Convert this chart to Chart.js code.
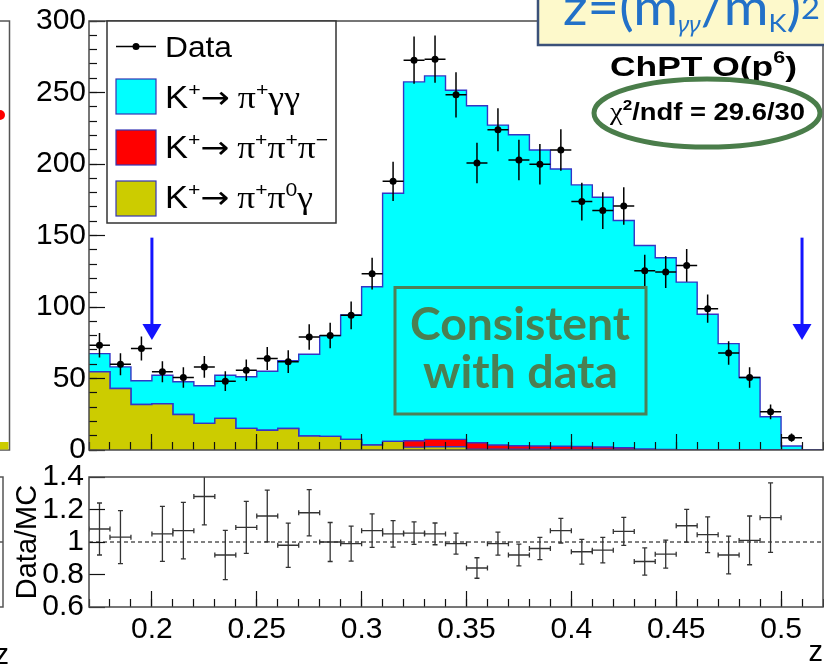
<!DOCTYPE html>
<html>
<head>
<meta charset="utf-8">
<script src="https://cdn.jsdelivr.net/npm/chart.js@4.4.1/dist/chart.umd.min.js"></script>
<style>
  html, body { margin: 0; padding: 0; background: #fff; overflow: hidden; }
  #wrap { position: relative; width: 824px; height: 671px; }
  #wrap canvas { position: absolute; left: 0; top: 0; }
</style>
</head>
<body>
<div id="wrap">
  <canvas id="main" width="824" height="671"></canvas>
  <canvas id="ratio" width="824" height="671"></canvas>
</div>
<script>
// Histogram binning in z = (m_gg / m_K)^2 : 35 bins of width 0.01
const binEdges = [0.17, 0.18, 0.19, 0.20, 0.21, 0.22, 0.23, 0.24, 0.25, 0.26, 0.27, 0.28,
  0.29, 0.30, 0.31, 0.32, 0.33, 0.34, 0.35, 0.36, 0.37, 0.38, 0.39, 0.40, 0.41, 0.42,
  0.43, 0.44, 0.45, 0.46, 0.47, 0.48, 0.49, 0.50, 0.51, 0.52];

// MC components (events per bin), stacked bottom to top
const mcPi0Gamma = [54.7, 43.0, 31.8, 32.3, 24.8, 18.6, 22.1, 15.1, 13.8, 15.0, 9.8, 9.5,
  7.4, 3.5, 6.0, 2.0, 2.3, 2.3, 0.6, 0.5, 0.5, 0.5, 0.4, 0.4, 0.3, 0.3,
  0.2, 0.1, 0, 0, 0, 0, 0, 0, 0];
const mcThreePi = [0, 0, 0, 0, 0, 0, 0, 0, 0, 0, 0, 0,
  0, 0, 0, 4.5, 5.1, 5.1, 4.5, 3.0, 2.5, 2.3, 2.2, 2.0, 1.8, 1.3,
  0.5, 0.3, 0, 0, 0, 0, 0, 0, 0];
const mcGammaGamma = [12.7, 15.1, 16.6, 20.0, 22.9, 26.3, 30.2, 36.1, 41.3, 47.5, 57.2, 70.5,
  87.1, 110.7, 173.5, 250.9, 254.2, 244.2, 235.6, 223.7, 217.5, 207.0, 193.9, 183.0, 174.6, 158.9,
  142.3, 134.0, 117.4, 94.9, 74.4, 50.7, 23.3, 2.8, 0];

// Data (events per bin) and statistical errors
const dataCounts = [73.3, 60.0, 71.0, 54.7, 50.7, 58.1, 48.1, 55.8, 64.0, 61.8, 79.0, 80.1,
  94.2, 123.3, 187.9, 272.6, 273.3, 248.4, 200.7, 224.0, 202.8, 199.8, 209.8, 173.7, 167.4, 170.7,
  125.3, 124.4, 129.1, 98.8, 67.9, 50.7, 26.7, 8.6, null];
const dataErrors = [8.6, 7.7, 8.4, 7.4, 7.1, 7.6, 6.9, 7.5, 8.0, 7.9, 8.9, 8.9,
  9.7, 11.1, 13.7, 16.5, 16.5, 15.8, 14.2, 15.0, 14.2, 14.1, 14.5, 13.2, 12.9, 13.1,
  11.2, 11.2, 11.4, 9.9, 8.2, 7.1, 5.2, 2.9, null];

// Data / MC ratio and its errors
const ratioValues = [1.08, 1.03, 1.47, 1.05, 1.07, 1.28, 0.92, 1.09, 1.16, 0.98, 1.18, 1.00,
  0.99, 1.07, 1.05, 1.055, 1.05, 0.99, 0.84, 0.99, 0.92, 0.96, 1.07, 0.94, 0.95, 1.065,
  0.88, 0.925, 1.10, 1.045, 0.92, 1.01, 1.15, 3.07, null];
const ratioErrors = [0.16, 0.163, 0.18, 0.169, 0.174, 0.175, 0.152, 0.16, 0.159, 0.136, 0.142, 0.12,
  0.108, 0.103, 0.081, 0.069, 0.067, 0.065, 0.063, 0.071, 0.067, 0.069, 0.076, 0.076, 0.078, 0.086,
  0.084, 0.086, 0.101, 0.11, 0.116, 0.15, 0.214, 1.0, null];

// Axis ticks
const xTickValues = [0.2, 0.25, 0.3, 0.35, 0.4, 0.45, 0.5];
const xTickLabels = ['0.2', '0.25', '0.3', '0.35', '0.4', '0.45', '0.5'];
const yTickValues = [0, 50, 100, 150, 200, 250, 300];
const yTickLabels = ['0', '50', '100', '150', '200', '250', '300'];
const ratioTickValues = [0.6, 0.8, 1.0, 1.2, 1.4];
const ratioTickLabels = ['0.6', '0.8', '1', '1.2', '1.4'];

// Signal region cuts marked with arrows
const cutValues = [0.2, 0.51];

// ---------------------------------------------------------------------------
const SANS = '"Liberation Sans", Arial, Helvetica, sans-serif';
const SERIF = '"Liberation Serif", "Times New Roman", serif';
const sans = (s, w) => `${w || ''} ${s}px ${SANS}`.trim();
const serif = (s, w) => `${w || ''} ${s}px ${SERIF}`.trim();

const binCenters = binEdges.slice(0, -1).map((e, i) => (e + binEdges[i + 1]) / 2);
const halfBin = (binEdges[1] - binEdges[0]) / 2;
const stepSeries = vals => binEdges.map((x, i) => ({ x, y: vals[Math.min(i, vals.length - 1)] }));
const yMinorTicks = [];
for (let v = 0; v <= 300; v += 10) yMinorTicks.push(v);

Chart.defaults.font.family = SANS;
Chart.defaults.color = '#000';

const fixedTicks = values => scale => { scale.ticks = values.map(v => ({ value: v })); };
const inwardTicks = len => ({
  drawOnChartArea: false, drawTicks: true, tickLength: -len,
  tickColor: '#111', tickWidth: 1.2, z: 1
});
const noGrid = { display: false, drawTicks: false };
const tickFont = { size: 30 };

// A tick-mark-only axis (no labels, zero thickness)
function tickAxis(pos, min, max, values, len, weight) {
  const horiz = pos === 'bottom';
  return {
    type: 'linear', position: pos, min, max, weight,
    afterBuildTicks: fixedTicks(values),
    afterFit: s => { if (horiz) s.height = 0; else s.width = 0; },
    ticks: { display: false }, grid: inwardTicks(len), border: { display: false }
  };
}

// Draw a run of differently styled text pieces, stretched to a given width
function drawRich(ctx, x, base, parts, width, color) {
  ctx.save();
  let total = 0;
  const widths = parts.map(p => { ctx.font = p.font; const w = ctx.measureText(p.t).width; total += w; return w; });
  ctx.translate(x, base);
  ctx.scale(width ? width / total : 1, 1);
  ctx.fillStyle = color;
  ctx.textAlign = 'left';
  ctx.textBaseline = 'alphabetic';
  let cx = 0;
  parts.forEach((p, i) => { ctx.font = p.font; ctx.fillText(p.t, cx, p.dy || 0); cx += widths[i]; });
  ctx.restore();
}

// Horizontal/vertical error bars for datasets carrying errY
const errorBarPlugin = {
  id: 'errorBars',
  afterDatasetsDraw(chart) {
    const { ctx, chartArea: a } = chart;
    chart.data.datasets.forEach(ds => {
      if (!ds.errY) return;
      const xs = chart.scales[ds.xAxisID], ys = chart.scales[ds.yAxisID];
      ctx.save();
      ctx.beginPath();
      ctx.rect(a.left, a.top, a.right - a.left, a.bottom - a.top);
      ctx.clip();
      ctx.strokeStyle = ds.errColor;
      ctx.lineWidth = ds.errWidth;
      ds.data.forEach((p, i) => {
        if (p.y == null || p.y < ys.min || p.y > ys.max) return;
        const px = xs.getPixelForValue(p.x), py = ys.getPixelForValue(p.y);
        const xl = xs.getPixelForValue(p.x - ds.errX), xr = xs.getPixelForValue(p.x + ds.errX);
        const yt = ys.getPixelForValue(p.y + ds.errY[i]), yb = ys.getPixelForValue(p.y - ds.errY[i]);
        ctx.beginPath();
        ctx.moveTo(xl, py); ctx.lineTo(xr, py);
        ctx.moveTo(px, yt); ctx.lineTo(px, yb);
        if (ds.errCap) {
          const c = ds.errCap;
          ctx.moveTo(xl, py - c); ctx.lineTo(xl, py + c);
          ctx.moveTo(xr, py - c); ctx.lineTo(xr, py + c);
          ctx.moveTo(px - c, yt); ctx.lineTo(px + c, yt);
          ctx.moveTo(px - c, yb); ctx.lineTo(px + c, yb);
        }
        ctx.stroke();
      });
      ctx.restore();
    });
  }
};

const framePlugin = {
  id: 'frame',
  afterDraw(chart) {
    const { ctx, chartArea: a } = chart;
    ctx.save();
    ctx.strokeStyle = '#4a4a4a';
    ctx.lineWidth = 1.5;
    ctx.strokeRect(a.left, a.top, a.right - a.left, a.bottom - a.top);
    ctx.restore();
  }
};

// Legend, cut arrows, fit text and labels of the main panel
const mainDecor = {
  id: 'mainDecor',
  afterDraw(chart) {
    const { ctx, scales: { x, y } } = chart;
    const ds = chart.data.datasets;
    ctx.save();

    // pieces of the neighbouring panel at the left edge
    ctx.strokeStyle = '#555'; ctx.lineWidth = 1.5;
    ctx.beginPath();
    ctx.moveTo(0, 21); ctx.lineTo(9.5, 21); ctx.lineTo(9.5, 450); ctx.lineTo(0, 450);
    ctx.moveTo(0, 477); ctx.lineTo(3, 477); ctx.lineTo(3, 607); ctx.lineTo(0, 607);
    ctx.moveTo(0, 542); ctx.lineTo(3, 542);
    ctx.stroke();
    ctx.fillStyle = '#CCCC00'; ctx.fillRect(0, 442, 8.5, 7.5);
    ctx.fillStyle = '#FF0000';
    ctx.beginPath(); ctx.arc(0, 115, 5, 0, Math.PI * 2); ctx.fill();
    ctx.fillStyle = '#000'; ctx.font = sans(29); ctx.textAlign = 'right'; ctx.textBaseline = 'alphabetic';
    ctx.fillText('z', 9, 664);

    // cut arrows
    ctx.strokeStyle = ctx.fillStyle = '#1414FF';
    ctx.lineWidth = 3;
    cutValues.forEach(c => {
      const px = x.getPixelForValue(c);
      const top = y.getPixelForValue(148.5), tip = y.getPixelForValue(77);
      ctx.beginPath(); ctx.moveTo(px, top); ctx.lineTo(px, tip - 12); ctx.stroke();
      ctx.beginPath();
      ctx.moveTo(px - 9.5, tip - 16); ctx.lineTo(px + 9.5, tip - 16); ctx.lineTo(px, tip);
      ctx.closePath(); ctx.fill();
    });

    // legend
    ctx.fillStyle = '#fff'; ctx.fillRect(107, 21, 229, 202);
    ctx.strokeStyle = '#333'; ctx.lineWidth = 1.5; ctx.strokeRect(107, 21, 229, 202);
    ctx.strokeStyle = '#000'; ctx.lineWidth = 1.3;
    ctx.beginPath(); ctx.moveTo(116, 46.5); ctx.lineTo(156, 46.5); ctx.stroke();
    ctx.fillStyle = '#000'; ctx.beginPath(); ctx.arc(136, 46.5, 3.5, 0, Math.PI * 2); ctx.fill();
    drawRich(ctx, 165, 57, [{ t: ds[3].label, font: sans(30) }], 67, '#000');

    const K = { t: 'K', font: sans(31) }, sup = t => ({ t, font: sans(19), dy: -12 });
    const arrow = { t: '\u2192', font: '31px "DejaVu Sans", sans-serif' }, gap = { t: ' ', font: sans(26) };
    const gr = t => ({ t, font: serif(32) });
    const rows = [
      { di: 2, top: 79, base: 108, w: 135, parts: [K, sup('+'), arrow, gap, gr('\u03C0'), sup('+'), gr('\u03B3\u03B3')] },
      { di: 1, top: 130, base: 158, w: 163, parts: [K, sup('+'), arrow, gap, gr('\u03C0'), sup('+'), gr('\u03C0'), sup('+'), gr('\u03C0'), sup('\u2212')] },
      { di: 0, top: 181, base: 208, w: 148, parts: [K, sup('+'), arrow, gap, gr('\u03C0'), sup('+'), gr('\u03C0'), sup('0'), gr('\u03B3')] }
    ];
    rows.forEach(r => {
      ctx.fillStyle = ds[r.di].backgroundColor;
      ctx.fillRect(116, r.top, 40, 35);
      ctx.strokeStyle = '#3535b5'; ctx.lineWidth = 1.2;
      ctx.strokeRect(116, r.top, 40, 35);
      drawRich(ctx, 165, r.base, r.parts, r.w, '#000');
    });

    // comparison box
    ctx.strokeStyle = '#4E8057'; ctx.lineWidth = 3;
    ctx.strokeRect(395, 287.5, 251, 126.5);
    drawRich(ctx, 410, 340, [{ t: 'Consistent', font: 'bold 45px Lato, "Open Sans", sans-serif' }], 220, '#4B7F52');
    drawRich(ctx, 423, 388, [{ t: 'with data', font: 'bold 45px Lato, "Open Sans", sans-serif' }], 195, '#4B7F52');

    // model label and fit quality
    drawRich(ctx, 610, 76, [
      { t: 'ChPT O(p', font: sans(28, 'bold') },
      { t: '6', font: sans(17, 'bold'), dy: -13 },
      { t: ')', font: sans(28, 'bold') }
    ], 187, '#000');
    drawRich(ctx, 610, 120, [
      { t: '\u03C7', font: serif(25) },
      { t: '2', font: sans(15, 'bold'), dy: -10 },
      { t: '/ndf = 29.6/30', font: sans(24, 'bold') }
    ], 195, '#000');
    ctx.strokeStyle = '#4A7D4A'; ctx.lineWidth = 5;
    ctx.beginPath(); ctx.ellipse(707, 113, 113, 34, 0, 0, Math.PI * 2); ctx.stroke();

    // variable definition box
    ctx.fillStyle = '#FDF9CB';
    ctx.fillRect(538, -5, 300, 50);
    ctx.strokeStyle = '#3B5179'; ctx.lineWidth = 2.5;
    ctx.strokeRect(538, -5, 300, 50);
    const lato = s => `${s}px Lato, "Open Sans", sans-serif`;
    drawRich(ctx, 563, 25, [
      { t: 'z=(m', font: lato(50) },
      { t: '\u03B3\u03B3', font: 'italic 22px "Noto Sans", "DejaVu Sans", sans-serif', dy: 7 },
      { t: '/m', font: lato(50) },
      { t: 'K', font: lato(25), dy: 7 },
      { t: ')', font: lato(50) },
      { t: '2', font: lato(30), dy: -6 }
    ], 257, '#2271C8');

    ctx.restore();
  }
};

const mcStyle = {
  type: 'line', stepped: 'before', pointRadius: 0, borderColor: '#3434c6', borderWidth: 1.4,
  stack: 'mc', fill: 'origin', xAxisID: 'x', yAxisID: 'y'
};

new Chart(document.getElementById('main'), {
  data: {
    datasets: [
      { ...mcStyle, label: 'K+ \u2192 \u03C0+\u03C00\u03B3', data: stepSeries(mcPi0Gamma), backgroundColor: '#CCCC00' },
      { ...mcStyle, label: 'K+ \u2192 \u03C0+\u03C0+\u03C0\u2212', data: stepSeries(mcThreePi), backgroundColor: '#FF0000' },
      { ...mcStyle, label: 'K+ \u2192 \u03C0+\u03B3\u03B3', data: stepSeries(mcGammaGamma), backgroundColor: '#00FFFF' },
      {
        type: 'line', label: 'Data', order: -1, stack: 'data', xAxisID: 'x', yAxisID: 'y',
        data: binCenters.map((x, i) => ({ x, y: dataCounts[i] })),
        showLine: false, pointRadius: 3.5, pointBackgroundColor: '#000', pointBorderWidth: 0,
        errY: dataErrors, errX: halfBin, errColor: '#000', errWidth: 1.5, errCap: 0
      }
    ]
  },
  options: {
    responsive: false, animation: false, events: [],
    layout: { padding: { top: 21, right: 1, bottom: 221, left: 0 }, autoPadding: false },
    plugins: { legend: { display: false }, tooltip: { enabled: false } },
    scales: {
      x: tickAxis('bottom', 0.17, 0.52, xTickValues, 16, 2),
      xMinor: tickAxis('bottom', 0.17, 0.52, binEdges, 8, 1),
      y: {
        type: 'linear', position: 'left', min: 0, max: 300, stacked: true, weight: 3,
        afterBuildTicks: fixedTicks(yTickValues), afterFit: s => { s.width = 89; },
        ticks: { callback: (v, i) => yTickLabels[i], font: tickFont, color: '#000', padding: 3, autoSkip: false },
        grid: noGrid, border: { display: false }
      },
      yMajor: tickAxis('left', 0, 300, yTickValues, 16, 2),
      yMinor: tickAxis('left', 0, 300, yMinorTicks, 8, 1)
    }
  },
  plugins: [errorBarPlugin, framePlugin, mainDecor]
});

new Chart(document.getElementById('ratio'), {
  data: {
    datasets: [
      {
        type: 'line', label: 'Data/MC', xAxisID: 'x', yAxisID: 'y',
        data: binCenters.map((x, i) => ({ x, y: ratioValues[i] })),
        showLine: false, pointRadius: 0,
        errY: ratioErrors, errX: halfBin, errColor: '#333', errWidth: 1.3, errCap: 2.5
      },
      {
        type: 'line', label: 'unity', xAxisID: 'x', yAxisID: 'y',
        data: [{ x: binEdges[0], y: 1 }, { x: binEdges[binEdges.length - 1], y: 1 }],
        borderColor: '#000', borderWidth: 1, borderDash: [4, 3], pointRadius: 0, fill: false
      }
    ]
  },
  options: {
    responsive: false, animation: false, events: [],
    layout: { padding: { top: 477, right: 1, bottom: 0, left: 0 }, autoPadding: false },
    plugins: { legend: { display: false }, tooltip: { enabled: false } },
    scales: {
      x: {
        type: 'linear', position: 'bottom', min: 0.17, max: 0.52, weight: 3,
        afterBuildTicks: fixedTicks(xTickValues), afterFit: s => { s.height = 64; },
        ticks: { callback: (v, i) => xTickLabels[i], font: tickFont, color: '#000', padding: 5, maxRotation: 0, autoSkip: false },
        title: { display: true, text: 'z', align: 'end', font: { size: 29 }, color: '#000', padding: { top: 0, bottom: 1 } },
        grid: noGrid, border: { display: false }
      },
      xMajor: tickAxis('bottom', 0.17, 0.52, xTickValues, 16, 2),
      xMinor: tickAxis('bottom', 0.17, 0.52, binEdges, 8, 1),
      y: {
        type: 'linear', position: 'left', min: 0.6, max: 1.4, weight: 3,
        afterBuildTicks: fixedTicks(ratioTickValues), afterFit: s => { s.width = 89; },
        ticks: { callback: (v, i) => ratioTickLabels[i], font: tickFont, color: '#000', padding: 5, autoSkip: false },
        title: { display: true, text: 'Data/MC', font: { size: 29 }, color: '#000', padding: { top: 11, bottom: 0 } },
        grid: noGrid, border: { display: false }
      },
      yMajor: tickAxis('left', 0.6, 1.4, ratioTickValues, 16, 2)
    }
  },
  plugins: [errorBarPlugin, framePlugin]
});
</script>
</body>
</html>
